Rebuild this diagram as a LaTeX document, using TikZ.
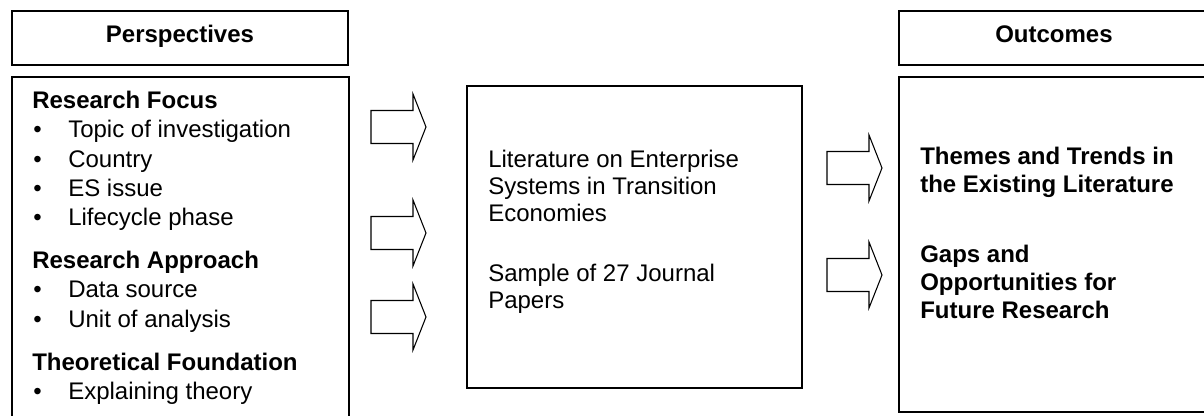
\documentclass[tikz,border=0pt]{standalone}
\usepackage{fontspec}
\setmainfont{Liberation Sans}
\begin{document}
\begin{tikzpicture}[x=0.75pt,y=-0.75pt,
  boxline/.style={draw=black,line width=1.3pt},
  arrowline/.style={draw=black,line width=0.8pt,line join=miter},
  txt/.style={anchor=base west,inner sep=0pt,font=\fontsize{18}{21}\selectfont},
  btxt/.style={txt,font=\fontsize{18}{21}\selectfont\bfseries},
  barrow/.pic={\draw[arrowline] (0,-16.5) -- (42,-16.5) -- (42,-33) -- (55,0) -- (42,33) -- (42,16.5) -- (0,16.5) -- cycle;}
]
\clip (0,0) rectangle (1204,416);
\fill[white] (0,0) rectangle (1204,416);
% boxes
\draw[boxline] (12,11) rectangle (348,65);
\draw[boxline] (12,77) rectangle (349,440);
\draw[boxline] (467,86) rectangle (802,388);
\draw[boxline] (899,11) rectangle (1230,65);
\draw[boxline] (899,77) rectangle (1230,412);
% headers
\node[btxt,anchor=base] (persp) at (180,43) {Perspectives};
\node[btxt,anchor=base] (outc) at (1054,43) {Outcomes};
% left content
\node[btxt] (rf) at (32,109) {Research Focus};
\node[txt] (b1) at (33,138) {•};
\node[txt] (t1) at (68,138) {Topic of investigation};
\node[txt] (b2) at (33,168) {•};
\node[txt] (t2) at (68,168) {Country};
\node[txt] (b3) at (33,197) {•};
\node[txt] (t3) at (68,197) {ES issue};
\node[txt] (b4) at (33,226) {•};
\node[txt] (t4) at (68,226) {Lifecycle phase};
\node[btxt] (ra) at (32,269) {Research Approach};
\node[txt] (b5) at (33,298) {•};
\node[txt] (t5) at (68,298) {Data source};
\node[txt] (b6) at (33,328) {•};
\node[txt] (t6) at (68,328) {Unit of analysis};
\node[btxt] (tf) at (32,371) {Theoretical Foundation};
\node[txt] (b7) at (33,400) {•};
\node[txt] (t7) at (68,400) {Explaining theory};
% middle content
\node[txt] (m1) at (488,168) {Literature on Enterprise};
\node[txt] (m2) at (488,195) {Systems in Transition};
\node[txt] (m3) at (488,222) {Economies};
\node[txt] (m4) at (488,282) {Sample of 27 Journal};
\node[txt] (m5) at (488,309) {Papers};
% right content
\node[btxt] (r1) at (920,165) {Themes and Trends in};
\node[btxt] (r2) at (920,193) {the Existing Literature};
\node[btxt] (r3) at (920,263) {Gaps and};
\node[btxt] (r4) at (920,291) {Opportunities for};
\node[btxt] (r5) at (920,319) {Future Research};
% block arrows
\pic at (371,127) {barrow};
\pic at (371,233) {barrow};
\pic at (371,317) {barrow};
\pic at (827,168) {barrow};
\pic at (827,275) {barrow};
\end{tikzpicture}
\end{document}
